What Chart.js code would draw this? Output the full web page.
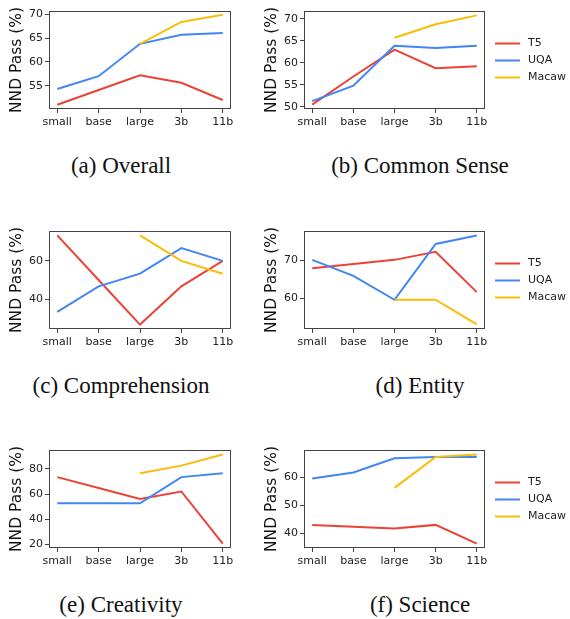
<!DOCTYPE html>
<html>
<head>
<meta charset="utf-8">
<script src="https://cdn.jsdelivr.net/npm/chart.js@4.4.0/dist/chart.umd.min.js"></script>
<style>
  body { margin: 0; background: #fff; }
  #wrap { position: relative; width: 570px; height: 619px; }
  canvas { position: absolute; }
  .cap { position: absolute; width: 300px; text-align: center; font-family: 'Liberation Serif', serif; font-size: 23px; line-height: 23px; color: #111; }
</style>
</head>
<body>
<div id="wrap"></div>
<script>
const sizes = ['small', 'base', 'large', '3b', '11b'];
const models = ['T5', 'UQA', 'Macaw'];
const colors = ['#EA4335', '#4285F4', '#FBBC05'];

// NND pass rate per category, one array per model
const overallT5 = [51.0, 54.1, 57.2, 55.6, 52.0];
const overallUQA = [54.3, 57.0, 63.8, 65.7, 66.1];
const overallMacaw = [null, null, 63.8, 68.4, 69.9];

const commonT5 = [50.5, 56.9, 63.0, 58.8, 59.2];
const commonUQA = [51.3, 54.8, 63.9, 63.4, 63.9];
const commonMacaw = [null, null, 65.7, 68.8, 70.8];

const compT5 = [73.3, 50.0, 26.7, 46.7, 60.0];
const compUQA = [33.3, 46.7, 53.3, 66.7, 60.0];
const compMacaw = [null, null, 73.3, 60.0, 53.3];

const entityT5 = [68.0, 69.1, 70.2, 72.3, 61.7];
const entityUQA = [70.2, 66.0, 59.7, 74.4, 76.6];
const entityMacaw = [null, null, 59.7, 59.7, 53.2];

const creatT5 = [73.5, 64.8, 56.1, 62.1, 20.8];
const creatUQA = [52.8, 52.8, 52.8, 73.5, 76.6];
const creatMacaw = [null, null, 76.6, 82.6, 91.5];

const sciT5 = [43.0, 42.3, 41.7, 43.0, 36.3];
const sciUQA = [59.7, 61.8, 66.9, 67.4, 67.4];
const sciMacaw = [null, null, 56.3, 67.4, 68.3];

const panels = [
  { cap: '(a) Overall', series: [overallT5, overallUQA, overallMacaw], min: 50.1, max: 70.7, ticks: [55, 60, 65, 70] },
  { cap: '(b) Common Sense', series: [commonT5, commonUQA, commonMacaw], min: 49.5, max: 71.8, ticks: [50, 55, 60, 65, 70] },
  { cap: '(c) Comprehension', series: [compT5, compUQA, compMacaw], min: 24.4, max: 75.6, ticks: [40, 60] },
  { cap: '(d) Entity', series: [entityT5, entityUQA, entityMacaw], min: 52.0, max: 77.8, ticks: [60, 70] },
  { cap: '(e) Creativity', series: [creatT5, creatUQA, creatMacaw], min: 17.3, max: 95.0, ticks: [20, 40, 60, 80] },
  { cap: '(f) Science', series: [sciT5, sciUQA, sciMacaw], min: 34.7, max: 69.9, ticks: [40, 50, 60] }
];

const tickFont = { family: 'DejaVu Sans', size: 11 };
const axisColor = '#444';

// matplotlib style closed box around the plot area
const boxPlugin = {
  id: 'box',
  afterDraw(chart) {
    const a = chart.chartArea, ctx = chart.ctx;
    ctx.save();
    ctx.strokeStyle = axisColor;
    ctx.lineWidth = 1;
    ctx.strokeRect(Math.round(a.left) + 0.5, Math.round(a.top) + 0.5,
      Math.round(a.right - a.left) - 1, Math.round(a.bottom - a.top) - 1);
    ctx.restore();
  }
};

// legend outside on the right, vertically centred
const sideLegend = {
  id: 'sideLegend',
  afterDraw(chart) {
    const a = chart.chartArea, ctx = chart.ctx;
    const mid = (a.top + a.bottom) / 2;
    ctx.save();
    ctx.font = '11px "DejaVu Sans"';
    ctx.textBaseline = 'middle';
    chart.data.datasets.forEach((ds, i) => {
      const y = Math.round(mid + (i - 1) * 17) + 0.5;
      ctx.strokeStyle = ds.borderColor;
      ctx.lineWidth = 2;
      ctx.beginPath();
      ctx.moveTo(a.right + 10, y);
      ctx.lineTo(a.right + 35, y);
      ctx.stroke();
      ctx.fillStyle = '#222';
      ctx.fillText(ds.label, a.right + 43, y);
    });
    ctx.restore();
  }
};

const wrap = document.getElementById('wrap');
const rowTops = [0, 219.5, 439];

panels.forEach((p, idx) => {
  const col = idx % 2, row = Math.floor(idx / 2);
  const cv = document.createElement('canvas');
  const w = col === 0 ? 240 : 315;
  const h = 135;
  cv.width = w; cv.height = h;
  cv.style.left = (col === 0 ? 0 : 255) + 'px';
  cv.style.top = rowTops[row] + 'px';
  wrap.appendChild(cv);

  const cap = document.createElement('div');
  cap.className = 'cap';
  cap.textContent = p.cap;
  cap.style.left = ((col === 0 ? 121 : 420) - 150) + 'px';
  cap.style.top = (rowTops[row] + 154) + 'px';
  wrap.appendChild(cap);

  new Chart(cv, {
    type: 'line',
    data: {
      datasets: p.series.map((vals, i) => ({
        label: models[i],
        data: vals.map((v, j) => ({ x: j, y: v })),
        borderColor: colors[i],
        borderWidth: 2,
        pointRadius: 0,
        tension: 0,
        fill: false,
        order: 2 - i
      }))
    },
    options: {
      responsive: false,
      animation: false,
      devicePixelRatio: 1,
      layout: { padding: { top: 11, right: col === 0 ? 9 : 85, left: 0, bottom: 0 } },
      plugins: { legend: { display: false }, tooltip: { enabled: false } },
      scales: {
        x: {
          type: 'linear',
          min: -0.2,
          max: 4.2,
          afterBuildTicks: s => { s.ticks = sizes.map((_, i) => ({ value: i })); },
          afterFit: s => { s.height = h - 11 - 98; },
          ticks: { callback: v => sizes[v], font: tickFont, color: '#222', padding: 3, autoSkip: false, maxRotation: 0 },
          grid: { drawOnChartArea: false, tickLength: 4, color: axisColor },
          border: { display: false }
        },
        y: {
          min: p.min,
          max: p.max,
          afterBuildTicks: s => { s.ticks = p.ticks.map(v => ({ value: v })); },
          afterFit: s => { s.width = 49; },
          ticks: { font: tickFont, color: '#222', padding: 2 },
          grid: { drawOnChartArea: false, tickLength: 4, color: axisColor },
          border: { display: false },
          title: { display: true, text: 'NND Pass (%)', font: { family: 'DejaVu Sans', size: 15.5 }, color: '#111', padding: { top: 8, bottom: 0 } }
        }
      }
    },
    plugins: col === 1 ? [boxPlugin, sideLegend] : [boxPlugin]
  });
});
</script>
</body>
</html>
